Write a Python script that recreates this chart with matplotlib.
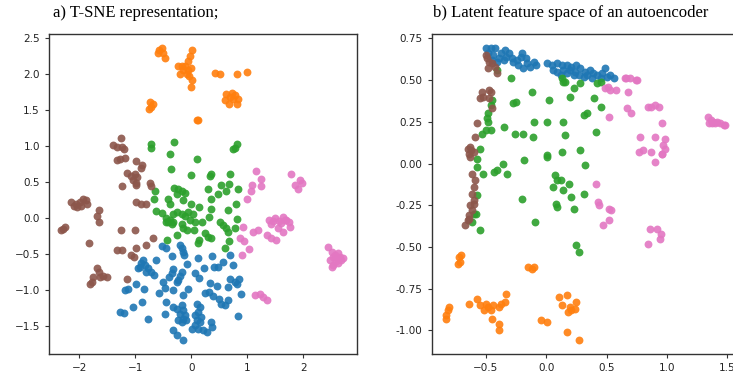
"""
Two scatter panels: t-SNE embedding and autoencoder latent space, five classes each
"""
import matplotlib
matplotlib.use("Agg")
from matplotlib import pyplot as plt

COLORS = ["#1f77b4", "#ff7f0e", "#2ca02c", "#8c564b", "#e377c2"]
MARKER_SIZE = 32

# ---- panel a) T-SNE ----
tsne_blue_x = [-0.52, -0.45, -0.20, -0.17, -0.15, -0.13, -0.35, -0.62, -0.86, -0.89, -0.92, -0.95,
               -0.83, -0.77, -0.71, -0.67, -0.80, 0.13, 0.38, 0.70, -0.07, -0.32, -0.35, -0.39,
               -0.17, -0.20, -0.23, -0.26, 0.07, 0.14, 0.23, 0.40, 0.48, 0.56, 0.75, -0.50,
               -0.47, -0.05, -0.32, -0.15, 0.33, 0.46, 0.69, 0.78, 0.86, 0.82, 0.66, 0.89,
               -0.99, -0.85, -1.18, -1.13, -0.57, 0.24, 0.32, 0.39, 0.49, 0.54, 0.60, 0.66,
               -1.04, -0.87, -0.45, -0.32, -0.26, -0.17, -0.14, -0.20, -0.11, -0.15, -0.10, -0.17,
               -0.23, 0.10, 0.15, 0.13, 0.07, 0.18, 0.10, 0.15, 0.07, 0.13, 0.21, 0.29,
               0.02, 0.35, 0.38, -1.27, -1.20, -0.46, -0.77, -0.33, -0.26, -0.15, 0.84]
tsne_blue_y = [-0.39, -0.42, -0.38, -0.42, -0.47, -0.52, -0.53, -0.58, -0.58, -0.63, -0.68, -0.70,
               -0.65, -0.70, -0.75, -0.79, -0.75, -0.56, -0.53, -0.52, -0.64, -0.71, -0.77, -0.82,
               -0.75, -0.81, -0.86, -0.89, -0.77, -0.83, -0.70, -0.68, -0.68, -0.61, -0.65, -0.89,
               -0.97, -0.98, -1.00, -1.07, -0.90, -0.95, -0.85, -0.89, -0.85, -0.92, -0.96, -1.05,
               -0.92, -0.98, -1.00, -0.99, -1.04, -1.04, -1.03, -1.09, -1.12, -1.19, -1.21, -1.14,
               -1.23, -1.16, -1.17, -1.23, -1.26, -1.21, -1.28, -1.33, -1.35, -1.40, -1.42, -1.44,
               -1.42, -1.19, -1.24, -1.31, -1.35, -1.38, -1.42, -1.44, -1.49, -1.54, -1.56, -1.58,
               -1.54, -1.44, -1.51, -1.30, -1.32, -1.33, -1.41, -1.55, -1.63, -1.69, -1.36]

tsne_orange_x = [-0.57, -0.53, -0.50, -0.59, -0.46, 0.02, -0.02, -0.05, -0.23, -0.17, -0.11, -0.05,
                 -0.15, -0.20, -0.08, -0.04, 0.00, 0.01, -0.01, 0.42, 0.51, 0.81, 0.99,
                 0.63, 0.72, 0.78, 0.69, 0.60, 0.75, 0.84, 0.68, 0.82,
                 -0.74, -0.69, -0.72, -0.75, 0.10, 0.12]
tsne_orange_y = [2.34, 2.36, 2.30, 2.30, 2.22, 2.34, 2.26, 2.18, 2.11, 2.11, 2.11, 2.06,
                 2.06, 2.01, 2.01, 1.97, 2.09, 1.92, 1.82, 2.02, 2.01, 2.01, 2.03,
                 1.72, 1.74, 1.71, 1.68, 1.64, 1.65, 1.65, 1.59, 1.59,
                 1.61, 1.59, 1.55, 1.52, 1.37, 1.36]

tsne_green_x = [-0.71, -0.71, -0.31, -0.37, 0.10, -0.36, -0.01, 0.36, 0.34, 0.70, 0.81, 0.78, 0.75,
                -0.30, -0.23, -0.17, -0.11, -0.26, -0.65, -0.67, 0.30, 0.54, 0.68, 0.63, 0.84,
                0.48, 0.35, 0.80, -0.41, -0.38, -0.15, -0.01, 0.14, 0.35, 0.66, -0.62, -0.53,
                -0.32, -0.26, -0.17, -0.11, -0.05, 0.04, -0.45, -0.41, -0.35, -0.38, -0.32, -0.45,
                -0.17, -0.15, -0.02, 0.07, 0.20, 0.32, 0.52, 0.56, 0.62, 0.66, 0.82, 0.79,
                -0.08, 0.05, 0.24, 0.30, 0.36, 0.14, 0.13, -0.25, -0.43, 0.68, 0.60]
tsne_green_y = [1.03, 0.98, 1.06, 0.89, 0.82, 0.68, 0.60, 0.62, 0.58, 0.61, 1.03, 0.98, 0.96,
                0.42, 0.40, 0.37, 0.35, 0.34, 0.37, 0.27, 0.41, 0.46, 0.48, 0.37, 0.40,
                0.33, 0.27, 0.19, 0.26, 0.19, 0.25, 0.20, 0.15, 0.12, 0.11, 0.10, 0.07,
                0.06, 0.09, 0.06, 0.03, 0.09, 0.06, 0.00, -0.06, -0.08, -0.03, -0.05, -0.05,
                -0.08, -0.14, -0.03, -0.05, -0.05, 0.02, -0.05, -0.10, -0.14, -0.19, -0.01, -0.14,
                -0.17, -0.17, -0.21, -0.26, -0.28, -0.31, -0.34, -0.24, -0.30, -0.32, -0.41]

tsne_brown_x = [-1.26, -1.40, -1.33, -1.24, -1.20, -1.27, -1.18, -1.32, -0.99, -0.87, -0.90, -1.01,
                -1.07, -0.96, -1.04, -0.98, -0.99, -1.15, -0.73, -0.71, -1.24, -2.14, -2.06, -1.99,
                -1.93, -1.88, -1.96, -2.04, -2.10, -1.86, -1.64, -1.68, -1.64, -0.98, -0.89, -0.80,
                -2.29, -2.32, -2.26, -1.26, -1.01, -1.82, -0.69, -0.80, -1.33, -1.24, -0.99, -1.07,
                -1.02, -1.69, -1.64, -1.75, -1.78, -1.80, -1.63, -1.51, -1.57, -1.15]
tsne_brown_y = [1.11, 1.01, 0.99, 0.99, 0.96, 0.82, 0.83, 0.81, 0.80, 0.74, 0.69, 0.62,
                0.58, 0.57, 0.53, 0.49, 0.46, 0.63, 0.49, 0.44, 0.45, 0.23, 0.19, 0.23,
                0.26, 0.25, 0.17, 0.16, 0.17, 0.19, 0.11, 0.03, -0.05, 0.23, 0.19, 0.19,
                -0.15, -0.17, -0.13, -0.17, -0.16, -0.34, -0.27, -0.38, -0.44, -0.45, -0.42, -0.52,
                -0.54, -0.70, -0.75, -0.82, -0.89, -0.91, -0.82, -0.82, -0.80, -0.85]

tsne_pink_x = [1.15, 1.24, 1.24, 1.08, 1.06, 1.00, 1.79, 1.94, 1.85, 1.91, 1.97,
               0.93, 0.88, 0.94, 1.04, 0.90, 1.11, 1.20,
               1.39, 1.49, 1.64, 1.70, 1.75, 1.61, 1.55, 1.64, 1.42, 1.76, 1.46, 1.57, 1.67,
               1.35, 1.43, 1.52,
               2.45, 2.51, 2.54, 2.48, 2.60, 2.65, 2.68, 2.54, 2.51, 2.63, 2.57, 2.71, 2.58, 2.62,
               1.14, 1.23, 1.29, 1.35]
tsne_pink_y = [0.65, 0.55, 0.45, 0.46, 0.38, 0.26, 0.62, 0.53, 0.46, 0.41, 0.49,
               -0.13, -0.27, -0.32, -0.43, -0.52, -0.19, -0.17,
               -0.02, 0.00, 0.02, -0.03, -0.06, -0.07, -0.14, -0.19, -0.08, -0.12, -0.04, -0.04, -0.03,
               -0.24, -0.27, -0.30,
               -0.40, -0.47, -0.54, -0.58, -0.56, -0.54, -0.58, -0.65, -0.68, -0.49, -0.52, -0.56, -0.60, -0.62,
               -1.07, -1.06, -1.10, -1.14]

# ---- panel b) autoencoder latent space ----
ae_blue_x = [-0.50, -0.46, -0.42, -0.48, -0.44, -0.39, -0.37, -0.34, -0.31, -0.33, -0.28, -0.24,
             -0.21, -0.20, -0.17, -0.16, -0.13, -0.10, -0.08, -0.19, -0.23, -0.27, -0.35, -0.41, -0.45,
             0.01, 0.05, 0.09, 0.13, 0.17, 0.21, 0.25, 0.20, 0.14, 0.09, 0.06, 0.12, 0.17, 0.24,
             0.28, 0.32, 0.36, 0.34, 0.39, 0.42, 0.46, 0.49, 0.50, 0.53, 0.56, 0.45, 0.38, 0.31,
             0.27, 0.23]
ae_blue_y = [0.69, 0.69, 0.69, 0.66, 0.65, 0.63, 0.66, 0.68, 0.66, 0.64, 0.63, 0.62,
             0.64, 0.66, 0.63, 0.60, 0.58, 0.61, 0.59, 0.57, 0.59, 0.61, 0.62, 0.61, 0.62,
             0.60, 0.59, 0.60, 0.59, 0.59, 0.58, 0.59, 0.56, 0.56, 0.55, 0.56, 0.53, 0.54, 0.55,
             0.57, 0.55, 0.56, 0.53, 0.54, 0.53, 0.54, 0.57, 0.52, 0.53, 0.51, 0.51, 0.51, 0.52,
             0.53, 0.53]

ae_orange_x = [-0.72, -0.70, -0.73, -0.71, -0.15, -0.12, -0.10, -0.83, -0.81, -0.80, -0.83, -0.64,
               -0.57, -0.55, -0.50, -0.48, -0.46, -0.44, -0.39, -0.37, -0.34, -0.33, -0.51, -0.45,
               -0.39, -0.39, -0.04, 0.01, 0.11, 0.17, 0.13, 0.20, 0.21, 0.24, 0.25, 0.18, 0.17, 0.27]
ae_orange_y = [-0.56, -0.55, -0.60, -0.59, -0.62, -0.63, -0.62, -0.91, -0.88, -0.86, -0.93, -0.84,
               -0.81, -0.85, -0.84, -0.86, -0.88, -0.85, -0.86, -0.84, -0.83, -0.78, -0.88, -0.93,
               -0.96, -1.00, -0.94, -0.95, -0.80, -0.79, -0.85, -0.86, -0.88, -0.87, -0.83, -0.89,
               -1.01, -1.06]

ae_green_x = [-0.41, -0.29, -0.45, -0.46, -0.48, -0.49, -0.48, -0.50, -0.46, -0.55, -0.57, -0.57,
              -0.52, -0.57, -0.58, -0.61, -0.55, -0.60, -0.53, -0.27, -0.25, -0.12, -0.35, -0.26,
              -0.19, -0.11, -0.10, -0.36, -0.43, -0.41, -0.32, -0.18, -0.20, -0.09, 0.02, 0.01,
              0.01, 0.01, 0.14, 0.13, 0.16, 0.14, 0.16, 0.13, 0.20, 0.23, 0.28, 0.34, 0.31,
              0.40, 0.45, 0.41, 0.45, 0.42, 0.28, 0.32, 0.07, 0.09, 0.12, 0.06, 0.14, 0.19,
              0.21, 0.31, 0.08, 0.09, 0.23, 0.25, 0.27]
ae_green_y = [0.56, 0.51, 0.38, 0.35, 0.30, 0.27, 0.25, 0.20, 0.20, 0.09, 0.03, -0.02,
              -0.06, -0.19, -0.30, -0.35, -0.40, -0.30, 0.18, 0.36, 0.37, 0.43, 0.22, 0.18,
              0.18, 0.16, 0.25, 0.00, -0.05, -0.04, -0.06, 0.02, -0.21, -0.35, 0.38, 0.25,
              0.05, 0.04, 0.49, 0.51, 0.49, 0.25, 0.17, 0.07, 0.40, 0.45, 0.48, 0.30, 0.29,
              0.39, 0.34, 0.19, 0.49, 0.48, 0.08, -0.01, -0.07, -0.10, -0.10, -0.14, -0.16, -0.12,
              -0.20, -0.18, -0.24, -0.26, -0.27, -0.49, -0.53]

ae_brown_x = [-0.50, -0.49, -0.47, -0.45, -0.42, -0.41, -0.48, -0.47, -0.46, -0.47, -0.45, -0.55,
              -0.53, -0.52, -0.57, -0.59, -0.63, -0.62, -0.64, -0.63, -0.60, -0.65, -0.61, -0.59,
              -0.60, -0.61, -0.60, -0.63, -0.61, -0.60, -0.64, -0.65, -0.67, -0.64]
ae_brown_y = [0.65, 0.63, 0.61, 0.60, 0.58, 0.54, 0.57, 0.44, 0.43, 0.39, 0.33, 0.39,
              0.43, 0.40, 0.24, 0.16, 0.10, 0.08, 0.06, 0.04, 0.07, 0.09, -0.06, -0.10,
              -0.14, -0.18, -0.22, -0.25, -0.28, -0.24, -0.31, -0.34, -0.37, -0.33]

ae_pink_x = [0.49, 0.51, 0.53, 0.58, 0.65, 0.69, 0.74, 0.66, 0.75, 0.68, 0.52, 0.67, 0.70,
             0.84, 0.87, 0.93, 0.90, 0.96, 0.78, 0.80, 0.77, 0.87, 0.90, 0.98, 0.97, 0.96,
             0.96, 0.98, 0.90, 1.34, 1.36, 1.38, 1.41, 1.44, 1.47, 1.48, 1.35, 1.37, 1.40,
             0.41, 0.43, 0.44, 0.52, 0.54, 0.52, 0.47, 0.86, 0.92, 0.95, 0.94, 0.84]
ae_pink_y = [0.45, 0.46, 0.44, 0.44, 0.51, 0.51, 0.50, 0.51, 0.50, 0.43, 0.28, 0.33, 0.30,
             0.34, 0.34, 0.34, 0.35, 0.24, 0.16, 0.08, 0.07, 0.07, 0.16, 0.15, 0.11, 0.06,
             0.06, 0.09, 0.01, 0.28, 0.26, 0.25, 0.25, 0.24, 0.23, 0.23, 0.24, 0.24, 0.24,
             -0.12, -0.23, -0.25, -0.27, -0.28, -0.34, -0.37, -0.39, -0.39, -0.42, -0.45, -0.48]


def scatter_classes(ax, xs, ys):
    # draw the classes in the same order as the original (blue under everything)
    for x, y, c in zip(xs, ys, COLORS):
        ax.scatter(x, y, s=MARKER_SIZE, color=c, alpha=0.9, linewidths=0)


def style_axes(ax):
    for side in ax.spines.values():
        side.set_color("#333333")
        side.set_linewidth(1.0)
    ax.tick_params(labelsize=7.5, length=3, color="#333333", labelcolor="#222222")


fig = plt.figure(figsize=(7.33, 3.76), dpi=100)

ax_a = fig.add_axes([0.0668, 0.0585, 0.4202, 0.851])
scatter_classes(ax_a,
                [tsne_blue_x, tsne_orange_x, tsne_green_x, tsne_brown_x, tsne_pink_x],
                [tsne_blue_y, tsne_orange_y, tsne_green_y, tsne_brown_y, tsne_pink_y])
ax_a.set_xlim(-2.54, 2.96)
ax_a.set_ylim(-1.89, 2.56)
ax_a.set_xticks([-2, -1, 0, 1, 2])
ax_a.set_yticks([-1.5, -1.0, -0.5, 0.0, 0.5, 1.0, 1.5, 2.0, 2.5])
style_axes(ax_a)

# right panel runs past the right edge of the figure, as in the source image
ax_b = fig.add_axes([0.5887, 0.0585, 0.4202, 0.851])
scatter_classes(ax_b,
                [ae_blue_x, ae_orange_x, ae_green_x, ae_brown_x, ae_pink_x],
                [ae_blue_y, ae_orange_y, ae_green_y, ae_brown_y, ae_pink_y])
ax_b.set_xlim(-0.948, 1.60)
ax_b.set_ylim(-1.141, 0.776)
ax_b.set_xticks([-0.5, 0.0, 0.5, 1.0, 1.5])
ax_b.set_yticks([-1.0, -0.75, -0.5, -0.25, 0.0, 0.25, 0.5, 0.75])
ax_b.yaxis.set_major_formatter(matplotlib.ticker.FormatStrFormatter("%.2f"))
style_axes(ax_b)

fig.text(53 / 733, 1 - 13 / 376, "a) T-SNE representation;", ha="left", va="center",
         fontsize=12, family="Liberation Serif")
fig.text(433 / 733, 1 - 13 / 376, "b) Latent feature space of an autoencoder", ha="left",
         va="center", fontsize=12, family="Liberation Serif")

fig.savefig("out.png", dpi=100)
